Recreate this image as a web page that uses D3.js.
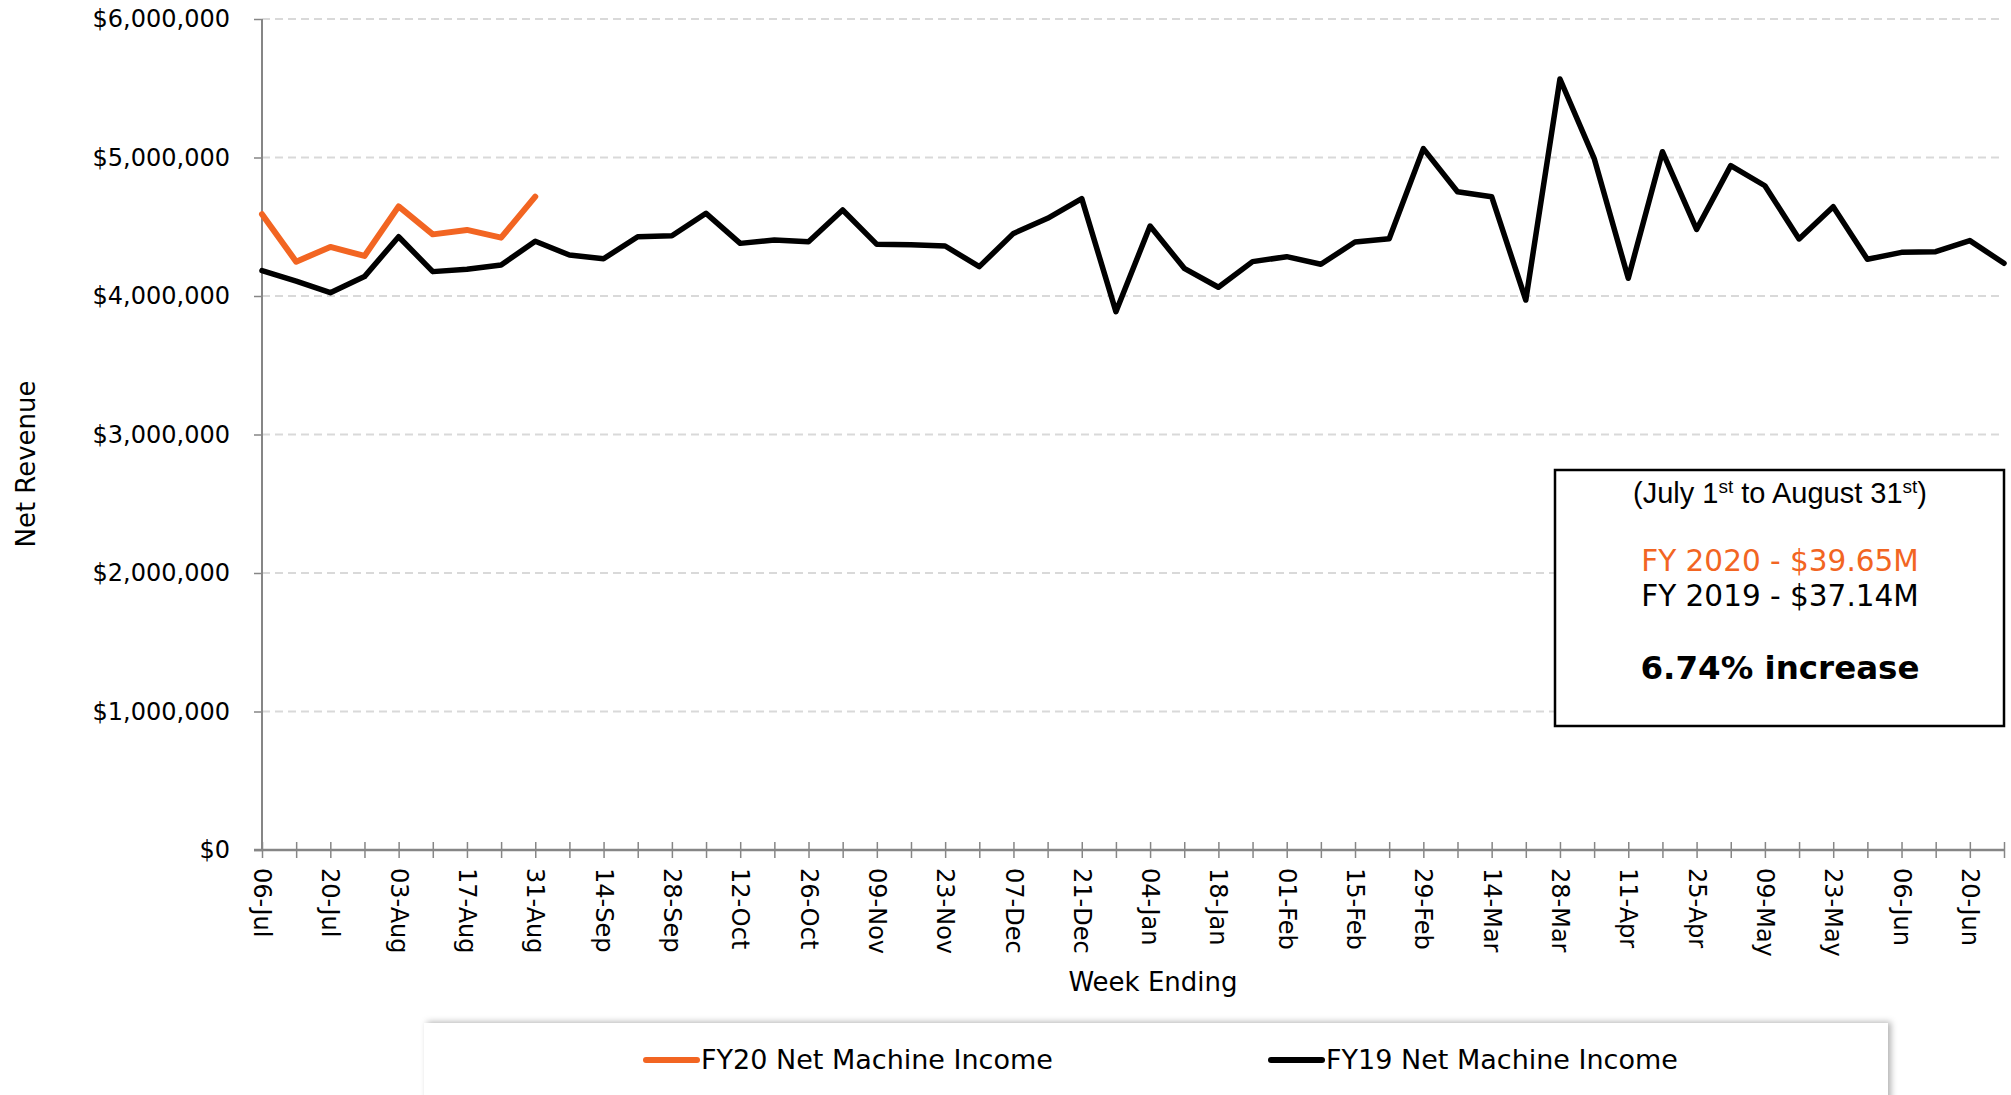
<!DOCTYPE html>
<html>
<head>
<meta charset="utf-8">
<script src="https://cdn.jsdelivr.net/npm/d3@7"></script>
<style>
    body { margin: 0; background: #ffffff; }
    svg  { display: block; font-family: Verdana, "DejaVu Sans", sans-serif; }
    .domain { display: none; }
</style>
</head>
<body>
<svg id="revenue_plot" width="2011" height="1095"></svg>
<script>
// week ending dates (x categories), every other one gets a label
const weekEnding = [
    "06-Jul", "13-Jul", "20-Jul", "27-Jul", "03-Aug", "10-Aug", "17-Aug", "24-Aug", "31-Aug",
    "07-Sep", "14-Sep", "21-Sep", "28-Sep", "05-Oct", "12-Oct", "19-Oct", "26-Oct",
    "02-Nov", "09-Nov", "16-Nov", "23-Nov", "30-Nov", "07-Dec", "14-Dec", "21-Dec", "28-Dec",
    "04-Jan", "11-Jan", "18-Jan", "25-Jan", "01-Feb", "08-Feb", "15-Feb", "22-Feb", "29-Feb",
    "07-Mar", "14-Mar", "21-Mar", "28-Mar", "04-Apr", "11-Apr", "18-Apr", "25-Apr",
    "02-May", "09-May", "16-May", "23-May", "30-May", "06-Jun", "13-Jun", "20-Jun", "27-Jun"
];

// FY20 net machine income (only the first weeks so far)
const fy20Income = [
    4590000, 4248000, 4354000, 4289000, 4647000, 4445000, 4477000, 4421000, 4717000
];

// FY19 net machine income, full year
const fy19Income = [
    4183000, 4108000, 4024000, 4140000, 4428000, 4176000, 4193000, 4224000, 4395000,
    4296000, 4269000, 4428000, 4435000, 4597000, 4380000, 4404000, 4392000,
    4621000, 4373000, 4370000, 4361000, 4212000, 4452000, 4561000, 4703000, 3887000,
    4505000, 4200000, 4063000, 4248000, 4284000, 4229000, 4390000, 4414000, 5064000,
    4753000, 4717000, 3971000, 5567000, 4994000, 4128000, 5042000, 4481000,
    4941000, 4796000, 4412000, 4645000, 4265000, 4315000, 4320000, 4400000, 4236000
];

const yTicks = [0, 1000000, 2000000, 3000000, 4000000, 5000000, 6000000];

const seriesNames = ["FY20 Net Machine Income", "FY19 Net Machine Income"];
const seriesColors = ["#f26522", "#000000"];

const boxFy20   = "FY 2020 - $39.65M";
const boxFy19   = "FY 2019 - $37.14M";
const boxChange = "6.74% increase";

// ---------------------------------------------------------------
var target_svg    = d3.select("#revenue_plot");
var target_width  = +target_svg.attr("width");
var target_height = +target_svg.attr("height");

var margin = { top    : 19,
               bottom : 245,
               left   : 262,
               right  : 7 };

var innerWidth  = target_width  - margin.left - margin.right;
var innerHeight = target_height - margin.top  - margin.bottom;

const chart = target_svg.append("g")
    .attr("transform", `translate(${margin.left},${margin.top})`);

const xScale = d3.scalePoint()
    .domain(weekEnding)
    .range([0, innerWidth]);

const yScale = d3.scaleLinear()
    .domain([0, 6000000])
    .range([innerHeight, 0]);

// dashed gridlines
chart.selectAll(".grid").data(yTicks.filter(d => d > 0))
    .enter().append("line")
    .attr("class", "grid")
    .attr("x1", 0)
    .attr("x2", innerWidth)
    .attr("y1", d => yScale(d))
    .attr("y2", d => yScale(d))
    .attr("stroke", "#d9d9d9")
    .attr("stroke-width", 2)
    .attr("stroke-dasharray", "8,5");

// y axis
const axisY = chart.append("g")
    .call(d3.axisLeft(yScale)
        .tickValues(yTicks)
        .tickSize(8)
        .tickPadding(24)
        .tickFormat(d3.format("$,")));
axisY.selectAll(".tick line").attr("stroke", "#868686").attr("stroke-width", 1.5);
axisY.selectAll("text")
    .attr("font-size", 24)
    .attr("fill", "#000")
    .attr("font-family", "Verdana, 'DejaVu Sans', sans-serif");
chart.append("line")
    .attr("x1", 0).attr("x2", 0)
    .attr("y1", 0).attr("y2", innerHeight)
    .attr("stroke", "#868686")
    .attr("stroke-width", 2);

// x axis: a crossing tick at every week, label on every other week
const axisX = chart.append("g")
    .attr("transform", `translate(0,${innerHeight})`)
    .call(d3.axisBottom(xScale)
        .tickSize(8)
        .tickFormat((d, i) => i % 2 === 0 ? d : ""));
axisX.selectAll(".tick line")
    .attr("y1", -8).attr("y2", 8)
    .attr("stroke", "#868686").attr("stroke-width", 1.5);
axisX.selectAll("text").filter(function() { return this.textContent === ""; }).remove();
axisX.selectAll("text")
    .attr("transform", "rotate(90)")
    .attr("x", 18)
    .attr("y", 0)
    .attr("dy", "0.35em")
    .attr("text-anchor", "start")
    .attr("font-size", 24)
    .attr("fill", "#000")
    .attr("font-family", "Verdana, 'DejaVu Sans', sans-serif");
chart.append("line")
    .attr("x1", -8).attr("x2", innerWidth)
    .attr("y1", innerHeight).attr("y2", innerHeight)
    .attr("stroke", "#868686")
    .attr("stroke-width", 2.5);

// axis titles
target_svg.append("text")
    .attr("transform", "translate(35,464) rotate(-90)")
    .attr("text-anchor", "middle")
    .attr("font-size", 26)
    .text("Net Revenue");

target_svg.append("text")
    .attr("x", 1153)
    .attr("y", 991)
    .attr("text-anchor", "middle")
    .attr("font-size", 26)
    .text("Week Ending");

// lines
const line = d3.line()
    .x((d, i) => xScale(weekEnding[i]))
    .y(d => yScale(d));

chart.append("path")
    .datum(fy19Income)
    .attr("d", line)
    .attr("fill", "none")
    .attr("stroke", seriesColors[1])
    .attr("stroke-width", 5.5)
    .attr("stroke-linejoin", "round")
    .attr("stroke-linecap", "round");

chart.append("path")
    .datum(fy20Income)
    .attr("d", line)
    .attr("fill", "none")
    .attr("stroke", seriesColors[0])
    .attr("stroke-width", 6)
    .attr("stroke-linejoin", "round")
    .attr("stroke-linecap", "round");

// summary box
const box = target_svg.append("g");
box.append("rect")
    .attr("x", 1555).attr("y", 470)
    .attr("width", 449).attr("height", 256)
    .attr("fill", "#fff")
    .attr("stroke", "#000")
    .attr("stroke-width", 2.5);

const period = box.append("text")
    .attr("x", 1780).attr("y", 503)
    .attr("text-anchor", "middle")
    .attr("font-family", "Arial, 'Liberation Sans', sans-serif")
    .attr("font-size", 29);
period.append("tspan").text("(July 1");
period.append("tspan").attr("font-size", 19).attr("dy", -10).text("st");
period.append("tspan").attr("dy", 10).text(" to August 31");
period.append("tspan").attr("font-size", 19).attr("dy", -10).text("st");
period.append("tspan").attr("dy", 10).text(")");

box.append("text")
    .attr("x", 1780).attr("y", 571)
    .attr("text-anchor", "middle")
    .attr("font-size", 29.5)
    .attr("fill", seriesColors[0])
    .text(boxFy20);

box.append("text")
    .attr("x", 1780).attr("y", 606)
    .attr("text-anchor", "middle")
    .attr("font-size", 29.5)
    .attr("fill", "#000")
    .text(boxFy19);

box.append("text")
    .attr("x", 1780).attr("y", 679)
    .attr("text-anchor", "middle")
    .attr("font-size", 32.5)
    .attr("font-weight", "bold")
    .text(boxChange);

// legend with soft shadow
const defs = target_svg.append("defs");
const shadow = defs.append("filter")
    .attr("id", "legend_shadow")
    .attr("x", "-5%").attr("y", "-30%")
    .attr("width", "110%").attr("height", "160%");
shadow.append("feDropShadow")
    .attr("dx", 3).attr("dy", -1)
    .attr("stdDeviation", 3)
    .attr("flood-color", "#000")
    .attr("flood-opacity", 0.3);

target_svg.append("rect")
    .attr("x", 424).attr("y", 1023)
    .attr("width", 1464).attr("height", 120)
    .attr("fill", "#fff")
    .attr("filter", "url(#legend_shadow)");

const legendX = [644, 1269];
seriesNames.forEach((name, i) => {
    const g = target_svg.append("g")
        .attr("transform", `translate(${legendX[i]},1060)`);
    g.append("line")
        .attr("x1", 2).attr("x2", 53)
        .attr("y1", 0).attr("y2", 0)
        .attr("stroke", seriesColors[i])
        .attr("stroke-width", 6)
        .attr("stroke-linecap", "round");
    g.append("text")
        .attr("x", 57)
        .attr("dy", "0.35em")
        .attr("font-size", 27)
        .text(name);
});
</script>
</body>
</html>
